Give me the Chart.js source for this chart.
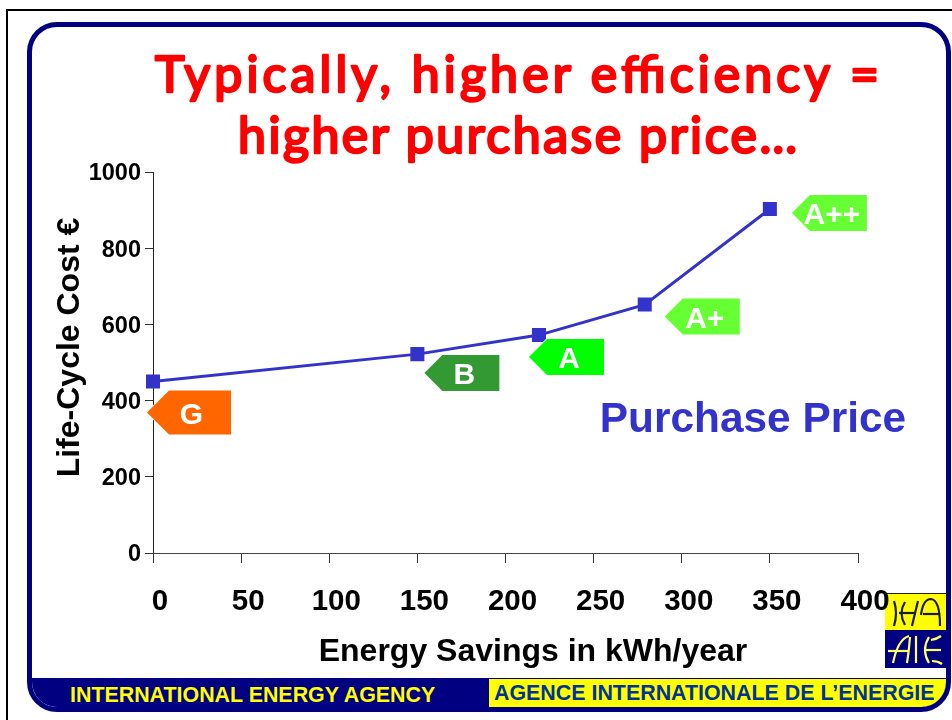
<!DOCTYPE html>
<html>
<head>
<meta charset="utf-8">
<title>Purchase Price</title>
<script src="https://cdn.jsdelivr.net/npm/chart.js@4"></script>
<style>
html, body { margin: 0; padding: 0; background: #fff; overflow: hidden; }
#page { position: relative; width: 952px; height: 720px; overflow: hidden; }
#outer { position: absolute; left: 6px; top: 9px; width: 960px; height: 730px; border: 2px solid #000; }
#panel { position: absolute; left: 27px; top: 22px; width: 924px; height: 690px; box-sizing: border-box;
  border: 5px solid #000080; border-radius: 30px; overflow: hidden; background: #fff; }
#footL { position: absolute; left: -5px; right: -5px; top: 651px; height: 40px; background: #000080; }
#footR { position: absolute; left: 457px; right: 0; top: 652px; height: 28px; background: #ffff00; border-bottom-right-radius: 24px; }
.foot { position: absolute; font: bold 21.4px "Liberation Sans", Arial, sans-serif; white-space: nowrap; }
#logo { position: absolute; left: 885px; top: 593px; }
#title { position: absolute; left: 0; top: 0; }
#chart { position: absolute; left: 0; top: 0; display: block; }
</style>
</head>
<body>
<div id="page">
  <div id="outer"></div>
  <div id="panel">
    <div id="footL"></div>
    <div id="footR"></div>
  </div>
  <div class="foot" style="left:70px;top:683px;color:#ffff00;" id="footLeft">INTERNATIONAL ENERGY AGENCY</div>
  <div class="foot" style="left:494px;top:681px;color:#003399;" id="footRight">AGENCE INTERNATIONALE DE L’ENERGIE</div>
  <svg id="logo" width="61" height="75" viewBox="0 0 61 75">
    <rect width="61" height="37" fill="#ffff00"/>
    <rect y="37" width="61" height="38" fill="#000080"/>
    <rect width="61" height="1" fill="#222"/>
    <g fill="none" stroke="#1a1a40" stroke-width="2.2">
      <path d="M9 8 Q13 20 9 33"/>
      <path d="M20 9 Q13 20 20 32"/>
      <path d="M14 20 H31"/>
      <path d="M33 8 Q30 20 27 33"/>
      <path d="M36 22 Q38 6 46 6 Q55 7 55 33"/>
      <path d="M38 21 H54"/>
    </g>
    <g fill="none" stroke="#ffff66" stroke-width="2.2">
      <path d="M8 70 Q13 46 24 43"/>
      <path d="M3 58 H24"/>
      <path d="M25 44 Q24 58 22 70"/>
      <path d="M31 43 V70"/>
      <path d="M44 44 Q36 57 44 70"/>
      <path d="M39 57 H56"/>
      <path d="M46 47 Q52 46 56 43"/>
      <path d="M47 68 Q53 68 57 71"/>
    </g>
  </svg>
  <svg id="title" width="952" height="175">
    <g fill="#ff0000" stroke="#ff0000" stroke-width="2.5" stroke-linejoin="round" stroke-linecap="round"
       font-family="Lato, 'Open Sans', sans-serif" font-size="50" font-weight="400">
      <text x="155" y="92" textLength="724" lengthAdjust="spacing">Typically, higher efficiency =</text>
      <text x="238" y="153" textLength="559" lengthAdjust="spacing">higher purchase price…</text>
    </g>
  </svg>
  <canvas id="chart" width="952" height="720"></canvas>
</div>
<script>
// values
const savings = [0, 150, 219, 279, 350];
const price = [450, 522, 572, 652, 903];
const grades = ['G', 'B', 'A', 'A+', 'A++'];
const gradeColors = ['#ff6600', '#339933', '#00ff00', '#66ff33', '#66ff33'];
const seriesName = 'Purchase Price';
const xTitle = 'Energy Savings in kWh/year';
const yTitle = 'Life-Cycle Cost €';

// where each tag's tip sits relative to its point
const tagTip = [[-6, 31], [7, 19], [-10, 22], [20, 12], [22, 4]];
const tagSize = [[84, 44], [75, 36], [75, 36], [75, 36], [75, 36]];

const BLUE = '#3333cc';
const FONT = '"Liberation Sans", Arial, sans-serif';

const slideText = {
    id: 'slideText',
    afterDraw: function (chart) {
        const c = chart.ctx;
        const meta = chart.getDatasetMeta(0);
        c.save();
        // energy label tags
        meta.data.forEach(function (pt, i) {
            const x = pt.x + tagTip[i][0];
            const y = pt.y + tagTip[i][1];
            const w = tagSize[i][0];
            const h = tagSize[i][1];
            c.beginPath();
            c.moveTo(x, y);
            c.lineTo(x + h / 2, y - h / 2);
            c.lineTo(x + w, y - h / 2);
            c.lineTo(x + w, y + h / 2);
            c.lineTo(x + h / 2, y + h / 2);
            c.closePath();
            c.strokeStyle = '#fff';
            c.lineWidth = 1.5;
            c.stroke();
            c.fillStyle = gradeColors[i];
            c.fill();
            c.fillStyle = '#fff';
            c.font = 'bold 30px ' + FONT;
            c.textAlign = 'center';
            c.textBaseline = 'alphabetic';
            c.fillText(grades[i], x + w / 2 + 2.5, y + 11);
        });
        c.fillStyle = BLUE;
        c.font = 'bold 42.4px ' + FONT;
        c.textAlign = 'center';
        c.fillText(seriesName, 753, 432);
        // axis titles sit off centre in the original
        c.fillStyle = '#000';
        c.font = 'bold 32px ' + FONT;
        c.fillText(xTitle, 533, 661);
        c.translate(78.5, 347.5);
        c.rotate(-Math.PI / 2);
        c.fillText(yTitle, 0, 0);
        c.restore();
    }
};

new Chart(document.getElementById('chart').getContext('2d'), {
    type: 'line',
    data: {
        datasets: [{
            label: seriesName,
            data: savings.map(function (s, i) { return { x: s, y: price[i] }; }),
            borderColor: BLUE,
            backgroundColor: BLUE,
            borderWidth: 3,
            tension: 0,
            pointStyle: 'rect',
            pointRadius: 7.8,
            pointHoverRadius: 7.8,
            clip: false
        }]
    },
    options: {
        responsive: false,
        animation: false,
        layout: { padding: { left: 0, top: 172, right: 94, bottom: 0 } },
        plugins: { legend: { display: false }, tooltip: { enabled: false }, title: { display: false } },
        scales: {
            x: {
                type: 'linear',
                min: 0,
                max: 400,
                afterFit: function (s) { s.height = 167; },
                border: { color: '#444', width: 1 },
                grid: { drawOnChartArea: false, tickLength: 10, tickColor: '#333' },
                ticks: {
                    stepSize: 50,
                    color: '#000',
                    padding: 21,
                    labelOffset: 7,
                    maxRotation: 0,
                    autoSkip: false,
                    font: { family: FONT, size: 29.5, weight: 'bold' }
                }
            },
            y: {
                min: 0,
                max: 1000,
                afterFit: function (s) { s.width = 153; },
                border: { color: '#222', width: 1 },
                grid: { drawOnChartArea: false, tickLength: 8, tickColor: '#333' },
                ticks: {
                    stepSize: 200,
                    color: '#000',
                    padding: 4,
                    labelOffset: 2,
                    callback: function (v) { return String(v); },
                    font: { family: FONT, size: 23.5, weight: 'bold' }
                }
            }
        }
    },
    plugins: [slideText]
});
</script>
</body>
</html>
